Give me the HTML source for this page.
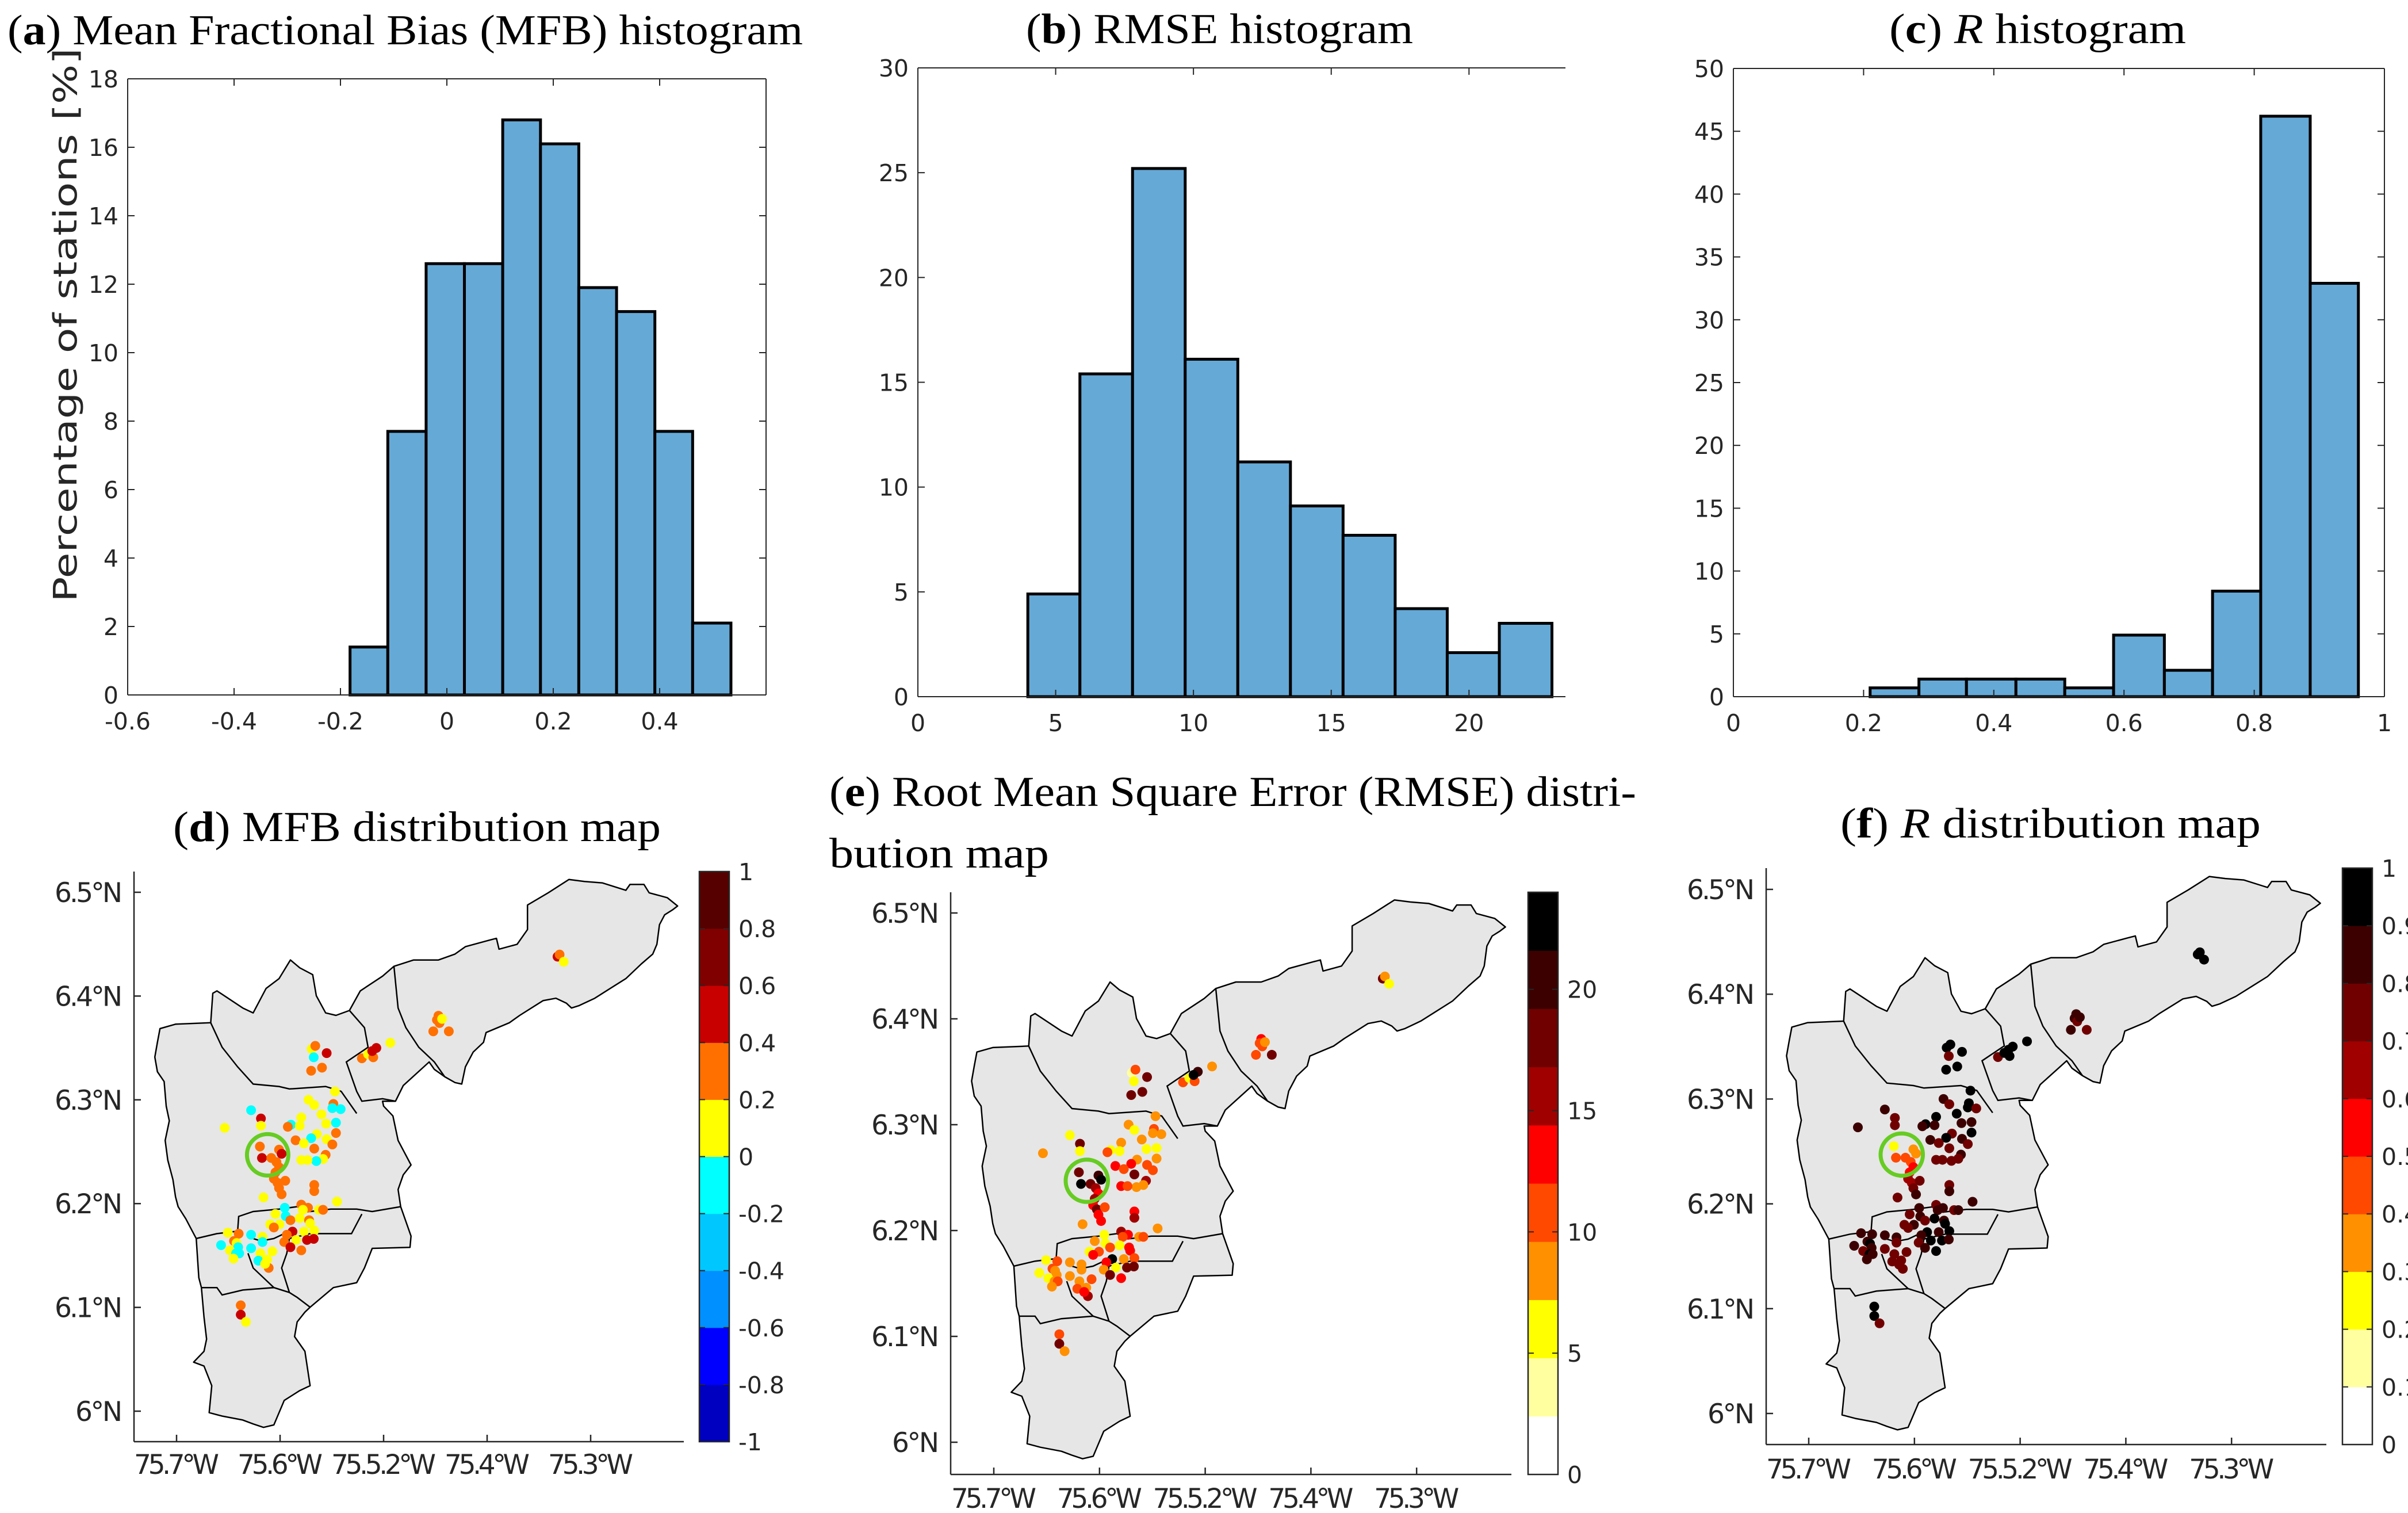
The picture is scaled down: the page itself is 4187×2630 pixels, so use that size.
<!DOCTYPE html>
<html><head><meta charset="utf-8"><style>
html,body{margin:0;padding:0;background:#fff;}
svg{display:block;}
.tick{font-family:"DejaVu Sans","Liberation Sans",sans-serif;fill:#262626;}
.ttl{font-family:"Liberation Serif",serif;fill:#000;}
</style></head><body>
<svg id="fig" xmlns="http://www.w3.org/2000/svg" width="4187" height="2630" viewBox="0 0 4187 2630">
<g><text class="ttl" x="13" y="77" font-size="74" textLength="1383" lengthAdjust="spacingAndGlyphs">(<tspan font-weight="bold">a</tspan>) Mean Fractional Bias (MFB) histogram</text></g>
<g><text class="ttl" x="1784" y="75" font-size="74" textLength="673" lengthAdjust="spacingAndGlyphs">(<tspan font-weight="bold">b</tspan>) RMSE histogram</text></g>
<g><text class="ttl" x="3285" y="75" font-size="74" textLength="516" lengthAdjust="spacingAndGlyphs">(<tspan font-weight="bold">c</tspan>) <tspan font-style="italic">R</tspan> histogram</text></g>
<g><text class="ttl" x="301" y="1462" font-size="74" textLength="848" lengthAdjust="spacingAndGlyphs">(<tspan font-weight="bold">d</tspan>) MFB distribution map</text></g>
<g><text class="ttl" x="1442" y="1401" font-size="74" textLength="1403" lengthAdjust="spacingAndGlyphs">(<tspan font-weight="bold">e</tspan>) Root Mean Square Error (RMSE) distri-</text><text class="ttl" x="1442" y="1508" font-size="74" textLength="382" lengthAdjust="spacingAndGlyphs">bution map</text></g>
<g><text class="ttl" x="3200" y="1456" font-size="74" textLength="731" lengthAdjust="spacingAndGlyphs">(<tspan font-weight="bold">f</tspan>) <tspan font-style="italic">R</tspan> distribution map</text></g>
<g><text class="tick" transform="translate(133,565) rotate(-90)" text-anchor="middle" font-size="56" textLength="963" lengthAdjust="spacingAndGlyphs">Percentage of stations [%]</text></g>
</svg>
<script>
// ---------- histogram data ----------
const mfbEdges=[-0.182,-0.111,-0.039,0.033,0.105,0.176,0.248,0.319,0.391,0.462,0.534];
const mfbPct=[1.4,7.7,12.6,12.6,16.8,16.1,11.9,11.2,7.7,2.1];
const mfbXTicks=[-0.6,-0.4,-0.2,0,0.2,0.4];
const mfbYTicks=[0,2,4,6,8,10,12,14,16,18];
const rmseEdges=[3.99,5.88,7.79,9.70,11.61,13.52,15.43,17.32,19.21,21.10,23.01];
const rmsePct=[4.9,15.4,25.2,16.1,11.2,9.1,7.7,4.2,2.1,3.5];
const rmseXTicks=[0,5,10,15,20];
const rmseYTicks=[0,5,10,15,20,25,30];
const rEdges=[0.210,0.285,0.358,0.434,0.509,0.584,0.662,0.736,0.810,0.886,0.960];
const rPct=[0.7,1.4,1.4,1.4,0.7,4.9,2.1,8.4,46.2,32.9];
const rXTicks=[0,0.2,0.4,0.6,0.8,1];
const rYTicks=[0,5,10,15,20,25,30,35,40,45,50];

// ---------- station data ----------
const stLon=[-75.332,-75.330,-75.326,-75.447,-75.4485,-75.446,-75.4435,-75.452,-75.437,-75.521,-75.515,-75.510,-75.507,-75.511,-75.4935,-75.5695,-75.566,-75.5675,-75.555,-75.570,-75.5595,-75.547,-75.5725,-75.567,-75.5485,-75.5495,-75.5415,-75.560,-75.5795,-75.546,-75.5895,-75.5555,-75.5925,-75.581,-75.5645,-75.546,-75.570,-75.585,-75.577,-75.555,-75.5495,-75.567,-75.556,-75.5585,-75.565,-75.5795,-75.5735,-75.628,-75.6185,-75.6185,-75.6535,-75.6195,-75.6175,-75.601,-75.5985,-75.6085,-75.6035,-75.601,-75.6045,-75.606,-75.6025,-75.595,-75.601,-75.5985,-75.616,-75.567,-75.567,-75.545,-75.5795,-75.573,-75.578,-75.5625,-75.5585,-75.5955,-75.6045,-75.5945,-75.590,-75.581,-75.572,-75.571,-75.6095,-75.6005,-75.606,-75.577,-75.567,-75.588,-75.5935,-75.5845,-75.574,-75.5675,-75.596,-75.590,-75.5795,-75.6505,-75.640,-75.6445,-75.642,-75.628,-75.617,-75.617,-75.657,-75.6405,-75.6485,-75.6425,-75.6395,-75.628,-75.619,-75.6075,-75.621,-75.6125,-75.645,-75.611,-75.6145,-75.638,-75.638,-75.633];
const stLat=[6.438,6.440,6.433,6.381,6.377,6.374,6.378,6.366,6.366,6.340,6.344,6.341,6.350,6.347,6.355,6.349,6.352,6.341,6.345,6.328,6.331,6.308,6.300,6.295,6.296,6.292,6.291,6.286,6.283,6.278,6.276,6.277,6.274,6.275,6.267,6.268,6.263,6.261,6.258,6.262,6.257,6.253,6.247,6.243,6.241,6.242,6.242,6.290,6.282,6.275,6.273,6.255,6.244,6.252,6.248,6.244,6.240,6.235,6.230,6.224,6.220,6.222,6.215,6.209,6.206,6.218,6.212,6.202,6.199,6.196,6.194,6.194,6.194,6.196,6.190,6.188,6.184,6.186,6.184,6.181,6.180,6.180,6.177,6.173,6.174,6.173,6.170,6.165,6.165,6.166,6.163,6.158,6.155,6.172,6.171,6.164,6.162,6.170,6.168,6.163,6.160,6.158,6.155,6.152,6.152,6.157,6.152,6.154,6.145,6.146,6.147,6.138,6.142,6.102,6.093,6.086];
const stMFB=[0.5,0.3,0.1,0.3,0.3,0.3,0.1,0.3,0.3,0.3,0.1,0.3,0.5,0.5,0.1,0.1,0.3,-0.1,0.5,0.3,0.3,0.1,0.1,0.1,0.3,-0.1,-0.1,0.1,0.1,-0.1,-0.1,0.1,0.3,0.1,0.1,0.3,-0.1,0.3,0.1,0.1,0.3,0.3,0.3,0.1,-0.1,0.1,0.1,-0.1,0.5,0.1,0.1,0.3,0.5,0.3,0.5,0.3,0.3,0.3,0.3,0.3,0.3,0.3,0.3,0.3,0.1,0.3,0.3,0.1,0.3,0.3,0.1,0.1,0.3,-0.1,0.1,-0.1,0.3,0.1,0.3,0.1,0.1,0.1,0.3,0.1,0.1,0.5,0.3,0.1,0.5,0.5,0.3,0.5,0.3,0.1,0.3,0.3,0.1,-0.1,0.1,-0.1,-0.1,-0.1,0.1,-0.1,-0.1,-0.1,0.1,0.1,-0.1,0.1,0.1,0.3,0.1,0.3,0.5,0.1];
const stRMSE=[18,9,6,13,11,11,9,11,19,11,6,11,21,23,9,4,11,6,18,18,18,9,9,6,11,9,9,9,9,6,6,6,11,6,9,9,13,13,11,11,11,18,16,9,9,13,11,6,19,6,9,19,23,21,23,18,16,13,16,13,18,11,13,13,9,13,16,9,16,13,11,9,11,6,9,6,11,6,13,13,6,11,13,9,11,23,13,6,18,18,9,19,13,6,11,11,9,9,9,9,6,9,6,9,11,9,9,11,11,9,9,16,13,11,19,9];
const stR=[0.95,0.95,0.95,0.85,0.85,0.75,0.85,0.85,0.75,0.75,0.95,0.95,0.95,0.95,0.95,0.95,0.95,0.75,0.95,0.95,0.95,0.95,0.85,0.75,0.95,0.95,0.75,0.95,0.95,0.85,0.95,0.85,0.85,0.85,0.75,0.95,0.95,0.85,0.75,0.85,0.75,0.75,0.85,0.75,0.75,0.75,0.75,0.85,0.75,0.75,0.85,0.25,0.45,0.35,0.35,0.45,0.45,0.55,0.55,0.65,0.65,0.75,0.75,0.85,0.75,0.75,0.85,0.85,0.75,0.85,0.85,0.75,0.85,0.85,0.75,0.85,0.75,0.95,0.85,0.95,0.75,0.85,0.75,0.85,0.95,0.95,0.85,0.95,0.95,0.85,0.75,0.85,0.95,0.85,0.85,0.85,0.95,0.85,0.85,0.75,0.85,0.85,0.75,0.95,0.85,0.75,0.75,0.75,0.75,0.75,0.85,0.75,0.75,0.95,0.95,0.75];

// ---------- colorbar data ----------
const mfbLevels=[-1,-0.8,-0.6,-0.4,-0.2,0,0.2,0.4,0.6,0.8,1];
const mfbColors=['#0000c0','#0000ff','#0090ff','#00c8ff','#00ffff','#ffff00','#ff7000','#c80000','#800000','#560000'];
const mfbCbTicks=[-1,-0.8,-0.6,-0.4,-0.2,0,0.2,0.4,0.6,0.8,1];
const rmseLevels=[0,2.4,4.8,7.2,9.6,12,14.4,16.8,19.2,21.6,24];
const hotColors=['#ffffff','#ffffa0','#ffff00','#ff9000','#ff4800','#ff0000','#a00000','#700000','#3c0000','#000000'];
const rmseCbTicks=[0,5,10,15,20];
const rLevels=[0,0.1,0.2,0.3,0.4,0.5,0.6,0.7,0.8,0.9,1];
const rCbTicks=[0,0.1,0.2,0.3,0.4,0.5,0.6,0.7,0.8,0.9,1];

const lonTicks=[-75.7,-75.6,-75.5,-75.4,-75.3];
const lonTickLabels=['75.7°W','75.6°W','75.5.2°W','75.4°W','75.3°W'];
const latTicks=[6.5,6.4,6.3,6.2,6.1,6.0];
const latTickLabels=['6.5°N','6.4°N','6.3°N','6.2°N','6.1°N','6°N'];

const NS='http://www.w3.org/2000/svg';
const svg=document.getElementById('fig');
function mk(tag,attrs,parent){const e=document.createElementNS(NS,tag);for(const k in attrs)e.setAttribute(k,attrs[k]);(parent||svg).appendChild(e);return e;}
function fmt(v){let s=(Math.round(v*10)/10).toString();return s;}

function histogram(cfg,edges,pct,xt,yt,name){
  const g=mk('g',{});
  
  
  const X=v=>cfg.l+(v-cfg.x0)/(cfg.x1-cfg.x0)*(cfg.r-cfg.l);
  const Y=v=>cfg.b-(v-cfg.y0)/(cfg.y1-cfg.y0)*(cfg.b-cfg.t);
  for(let i=0;i<pct.length;i++){
    const x=X(edges[i]),w=X(edges[i+1])-x,y=Y(pct[i]);
    const r=mk('rect',{x:x,y:y,width:w,height:Y(0)-y,fill:'#65a9d7',stroke:'#000','stroke-width':5},g);
    
    
  }
  const ax=mk('g',{stroke:'#262626','stroke-width':2,fill:'none'},g);
  
  
  mk('line',{x1:cfg.l,y1:cfg.b,x2:cfg.r,y2:cfg.b},ax);
  mk('line',{x1:cfg.l,y1:cfg.t,x2:cfg.l,y2:cfg.b},ax);
  mk('line',{x1:cfg.l,y1:cfg.t,x2:cfg.r,y2:cfg.t},ax);
  if(cfg.rightBorder)mk('line',{x1:cfg.r,y1:cfg.t,x2:cfg.r,y2:cfg.b},ax);
  xt.forEach(v=>{const x=X(v);
    mk('line',{x1:x,y1:cfg.b,x2:x,y2:cfg.b-12},ax);mk('line',{x1:x,y1:cfg.t,x2:x,y2:cfg.t+12},ax);
    const t=mk('text',{x:x,y:cfg.b+60,'text-anchor':'middle','font-size':41,class:'tick'},g);t.textContent=fmt(v);
    
    
  });
  yt.forEach(v=>{const y=Y(v);
    mk('line',{x1:cfg.l,y1:y,x2:cfg.l+12,y2:y},ax);if(cfg.rightBorder)mk('line',{x1:cfg.r,y1:y,x2:cfg.r-12,y2:y},ax);
    const t=mk('text',{x:cfg.l-16,y:y+15,'text-anchor':'end','font-size':41,class:'tick'},g);t.textContent=fmt(v);
    
    
  });
}
histogram({l:222,r:1332,t:137,b:1208,x0:-0.6,x1:0.6,y0:0,y1:18,rightBorder:true},mfbEdges,mfbPct,mfbXTicks,mfbYTicks,'mfb-histogram');
histogram({l:1596,r:2722,t:118,b:1211,x0:0,x1:23.5,y0:0,y1:30,rightBorder:false},rmseEdges,rmsePct,rmseXTicks,rmseYTicks,'rmse-histogram');
histogram({l:3014,r:4146,t:119,b:1211,x0:0,x1:1,y0:0,y1:50,rightBorder:true},rEdges,rPct,rXTicks,rYTicks,'r-histogram');

// ---------- map outline (decorative geometry, traced in reference units) ----------
const outlineT=[[310,572],[340,563],[408,560],[412,500],[420,495],[470,530],[490,540],[515,490],[540,470],[562,432],[580,448],[605,462],[612,505],[630,540],[650,545],[676,535],[697,495],[740,465],[762,445],[800,432],[848,432],[880,420],[900,405],[945,392],[960,388],[965,410],[1000,400],[1020,370],[1020,320],[1060,295],[1100,268],[1130,272],[1165,275],[1210,290],[1218,278],[1245,278],[1255,295],[1290,305],[1310,322],[1300,330],[1285,340],[1275,360],[1270,400],[1262,420],[1240,440],[1210,470],[1180,490],[1150,510],[1120,525],[1105,530],[1095,520],[1075,510],[1050,515],[1035,525],[1005,545],[985,560],[940,580],[935,600],[915,620],[900,650],[893,685],[880,682],[860,670],[840,655],[830,640],[780,688],[765,720],[740,720],[742,730],[760,750],[770,800],[795,850],[780,870],[770,900],[775,935],[795,995],[793,1018],[720,1020],[705,1060],[690,1090],[645,1100],[600,1140],[590,1150],[575,1170],[570,1200],[590,1230],[600,1300],[580,1310],[550,1330],[530,1380],[510,1385],[490,1378],[470,1370],[430,1362],[405,1355],[410,1300],[395,1260],[375,1252],[395,1230],[400,1205],[395,1160],[390,1100],[385,1080],[380,1000],[370,980],[360,960],[345,935],[340,915],[335,880],[325,840],[320,800],[328,760],[322,730],[318,680],[305,660],[300,630],[305,600]];
const innerT=[
 [[408,560],[430,610],[460,650],[490,685],[540,690],[560,695],[630,690],[660,700],[690,745]],
 [[676,535],[705,570],[712,610],[670,640],[690,700],[700,720],[740,715],[765,720]],
 [[762,445],[770,530],[785,570],[810,610],[840,640],[860,670]],
 [[380,1000],[420,990],[460,985],[462,955],[490,945],[540,940],[575,935],[600,945],[640,940],[690,940],[720,945],[775,935]],
 [[560,1000],[600,990],[640,990],[680,990],[700,950]],
 [[390,1100],[420,1100],[430,1115],[470,1105],[530,1100],[560,1110],[575,1120],[600,1140]],
 [[480,990],[490,1000],[505,1005],[530,1000],[550,990],[560,1000],[555,1030],[545,1060],[560,1110]],
 [[480,1030],[490,1060],[510,1080],[530,1100]]
];
const tLon=zx=>-75.7+(zx-342)*0.0005;
const tLat=zy=>6.5-(zy-294)*0.0004726;

function map(cfg,vals,levels,colors,cbTicks,name){
  const g=mk('g',{});
  
  
  const X=lon=>cfg.x0+(lon+75.7)*cfg.xs;
  const Y=lat=>cfg.y65+(6.5-lat)*cfg.ys;
  const pts=outlineT.map(p=>X(tLon(p[0])).toFixed(1)+','+Y(tLat(p[1])).toFixed(1)).join(' ');
  const poly=mk('polygon',{points:pts,fill:'#e6e6e6',stroke:'#000','stroke-width':2.5,'stroke-linejoin':'round'},g);
  
  
  innerT.forEach(l=>{const pl=mk('polyline',{points:l.map(p=>X(tLon(p[0])).toFixed(1)+','+Y(tLat(p[1])).toFixed(1)).join(' '),fill:'none',stroke:'#000','stroke-width':2.5},g);
    
    });
  const colorOf=v=>{for(let i=0;i<colors.length;i++){if(v<levels[i+1])return colors[i];}return colors[colors.length-1];};
  for(let i=0;i<stLon.length;i++){
    const c=mk('circle',{cx:X(stLon[i]),cy:Y(stLat[i]),r:8.5,fill:colorOf(vals[i])},g);
    
    
  }
  const gc=mk('circle',{cx:X(-75.612),cy:Y(6.247),r:cfg.xs*0.02,fill:'none',stroke:'#66cc22','stroke-width':7},g);
  
  
  const ax=mk('g',{stroke:'#262626','stroke-width':2.5},g);
  
  
  mk('line',{x1:cfg.l,y1:cfg.t,x2:cfg.l,y2:cfg.b},ax);
  mk('line',{x1:cfg.l,y1:cfg.b,x2:cfg.r,y2:cfg.b},ax);
  lonTicks.forEach((v,i)=>{const x=X(v);mk('line',{x1:x,y1:cfg.b,x2:x,y2:cfg.b-12},ax);
    const t=mk('text',{x:x,y:cfg.lb,'text-anchor':'middle','font-size':47,class:'tick',textLength:(i===2?182:148),lengthAdjust:'spacing'},g);t.textContent=lonTickLabels[i];
    
    });
  latTicks.forEach((v,i)=>{const y=Y(v);mk('line',{x1:cfg.l,y1:y,x2:cfg.l+12,y2:y},ax);
    const t=mk('text',{x:cfg.l-20,y:y+17,'text-anchor':'end','font-size':47,class:'tick',textLength:(i===5?82:118),lengthAdjust:'spacing'},g);t.textContent=latTickLabels[i];
    
    });
  // colorbar
  const cb=mk('g',{},g);
  
  
  const lo=levels[0],hi=levels[levels.length-1];
  const CY=v=>cfg.cbb-(v-lo)/(hi-lo)*(cfg.cbb-cfg.t);
  for(let i=0;i<colors.length;i++){
    const y1=CY(levels[i+1]),y0=CY(levels[i]);
    const r=mk('rect',{x:cfg.cbx,y:y1,width:52,height:y0-y1+0.5,fill:colors[i]},cb);
    
    
  }
  mk('rect',{x:cfg.cbx,y:cfg.t,width:52,height:cfg.cbb-cfg.t,fill:'none',stroke:'#262626','stroke-width':2.5},cb);
  cbTicks.forEach(v=>{const y=CY(v);
    mk('line',{x1:cfg.cbx+52,y1:y,x2:cfg.cbx+42,y2:y,stroke:'#262626','stroke-width':2},cb);
    mk('line',{x1:cfg.cbx,y1:y,x2:cfg.cbx+10,y2:y,stroke:'#262626','stroke-width':2},cb);
    const t=mk('text',{x:cfg.cbx+68,y:y+15,'font-size':41,class:'tick'},cb);t.textContent=fmt(v);
    
    });
}
map({x0:307,xs:1800,y65:1551,ys:1804,l:233,r:1189,t:1515,b:2506,lb:2562,cbx:1216,cbb:2506},stMFB,mfbLevels,mfbColors,mfbCbTicks,'mfb-map');
map({x0:1728,xs:1838,y65:1587,ys:1840,l:1653,r:2628,t:1551,b:2563,lb:2621,cbx:2657,cbb:2563},stRMSE,rmseLevels,hotColors,rmseCbTicks,'rmse-map');
map({x0:3145,xs:1838,y65:1546,ys:1822,l:3071,r:4045,t:1509,b:2511,lb:2570,cbx:4073,cbb:2511},stR,rLevels,hotColors,rCbTicks,'r-map');
</script>
</body></html>
